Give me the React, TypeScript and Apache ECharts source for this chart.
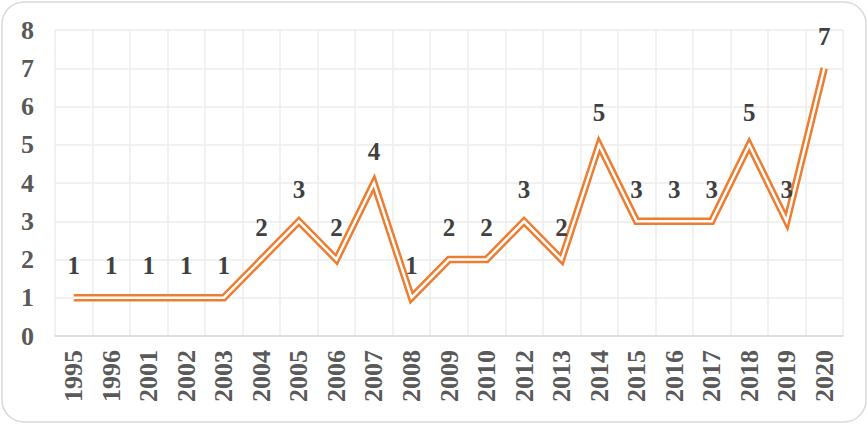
import React, { useEffect, useRef } from "react";
import * as echarts from "echarts";

const categories = ["1995","1996","2001","2002","2003","2004","2005","2006","2007","2008","2009","2010","2012","2013","2014","2015","2016","2017","2018","2019","2020"];
const values = [1,1,1,1,1,2,3,2,4,1,2,2,3,2,5,3,3,3,5,3,7];
const yTicks = [0, 8, 1];

export default function App() {
  const ref = useRef<HTMLDivElement>(null);
  useEffect(() => {
    if (!ref.current) return;
    const chart = echarts.init(ref.current, null, { renderer: "svg" });
    const font = "Liberation Serif";
    chart.setOption({
      animation: false,
      backgroundColor: "#ffffff",
      graphic: [
        {
          type: "rect",
          shape: { x: 2, y: 2, width: 864, height: 420, r: 22 },
          style: { fill: "none", stroke: "#d9d9d9", lineWidth: 1.5 },
          z: -1,
          silent: true,
        },
      ],
      grid: { left: 55, right: 25, top: 30, bottom: 90 },
      xAxis: {
        type: "category",
        data: categories,
        boundaryGap: true,
        axisLine: { lineStyle: { color: "#d9d9d9", width: 1.5 } },
        axisTick: { show: false },
        splitLine: { show: true, lineStyle: { color: "#ececec", width: 1.5 } },
        axisLabel: {
          rotate: 90,
          interval: 0,
          margin: 14,
          color: "#595959",
          fontFamily: font,
          fontWeight: "bold",
          fontSize: 26,
        },
      },
      yAxis: {
        type: "value",
        min: yTicks[0],
        max: yTicks[1],
        interval: yTicks[2],
        axisLine: { show: false },
        axisTick: { show: false },
        splitLine: { lineStyle: { color: "#ececec", width: 1.5 } },
        axisLabel: {
          margin: 21,
          color: "#595959",
          fontFamily: font,
          fontWeight: "bold",
          fontSize: 26,
        },
      },
      series: [
        {
          type: "line",
          data: values,
          symbol: "none",
          lineStyle: { color: "#ED7D31", width: 7.5, join: "miter", cap: "butt" },
          z: 2,
          silent: true,
        },
        {
          type: "line",
          data: values,
          symbol: "none",
          lineStyle: { color: "#ffffff", width: 2.5, join: "miter", cap: "butt" },
          z: 3,
          silent: true,
        },
        {
          type: "line",
          data: values,
          symbol: "circle",
          symbolSize: 1,
          showSymbol: true,
          itemStyle: { color: "rgba(0,0,0,0)" },
          lineStyle: { width: 0, opacity: 0 },
          z: 4,
          label: {
            show: true,
            position: "top",
            distance: 19,
            color: "#404040",
            fontFamily: font,
            fontWeight: "bold",
            fontSize: 25,
          },
        },
      ],
    });
    return () => chart.dispose();
  }, []);
  return (
    <div
      ref={ref}
      style={{ position: "absolute", left: 0, top: 0, width: 868, height: 426 }}
    />
  );
}
